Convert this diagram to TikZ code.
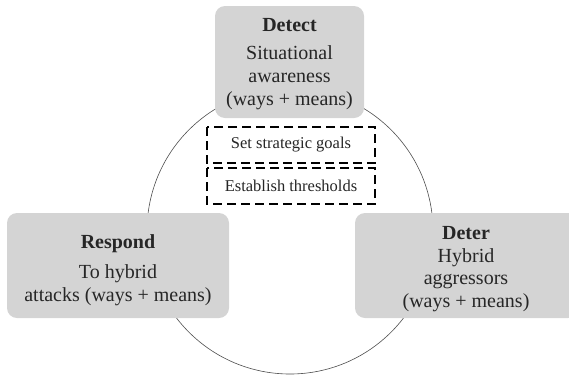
\documentclass[tikz,border=0pt]{standalone}
\usepackage{fontspec}
\setmainfont{Liberation Serif}
\begin{document}
\begin{tikzpicture}[x=1pt,y=-1pt,
  phase/.style={fill=phasegray, rounded corners=10pt, draw=none},
  phasetext/.style={align=center, text=black!85, font=\fontsize{20}{23}\selectfont},
  task/.style={draw=black, line width=1.1pt, dash pattern=on 9pt off 5pt, fill=white},
  tasktext/.style={text=black!85, font=\fontsize{16.5}{19}\selectfont}]
  \definecolor{phasegray}{HTML}{D4D4D4}
  \useasboundingbox (0,0) rectangle (569,375);
  % cycle
  \draw[draw=black!70, line width=0.6pt] (290,231) circle[radius=143];
  % phase boxes
  \path[phase] (215,6) rectangle (364,118) node[pos=0.5, inner sep=0] (detectbox) {};
  \path[phase] (7,213) rectangle (229,318) node[pos=0.5, inner sep=0] (respondbox) {};
  \path[phase] (355,213) rectangle (578,318) node[pos=0.5, inner sep=0] (deterbox) {};
  \node[phasetext] (detect) at (289.5,64.5) {\textbf{Detect}\\[5pt]Situational\\awareness\\(ways + means)};
  \node[phasetext] (respond) at (118,270) {\textbf{Respond}\\[7pt]To hybrid\\attacks (ways + means)};
  \node[phasetext, font=\fontsize{20}{22.5}\selectfont] (deter) at (466,269) {\textbf{Deter}\\Hybrid\\aggressors\\(ways + means)};
  % strategic tasks
  \draw[task] (207,127) rectangle (375,163);
  \node[tasktext] (goals) at (291,145) {Set strategic goals};
  \draw[task] (207,168) rectangle (375,204);
  \node[tasktext] (thresholds) at (291,186) {Establish thresholds};
\end{tikzpicture}
\end{document}
